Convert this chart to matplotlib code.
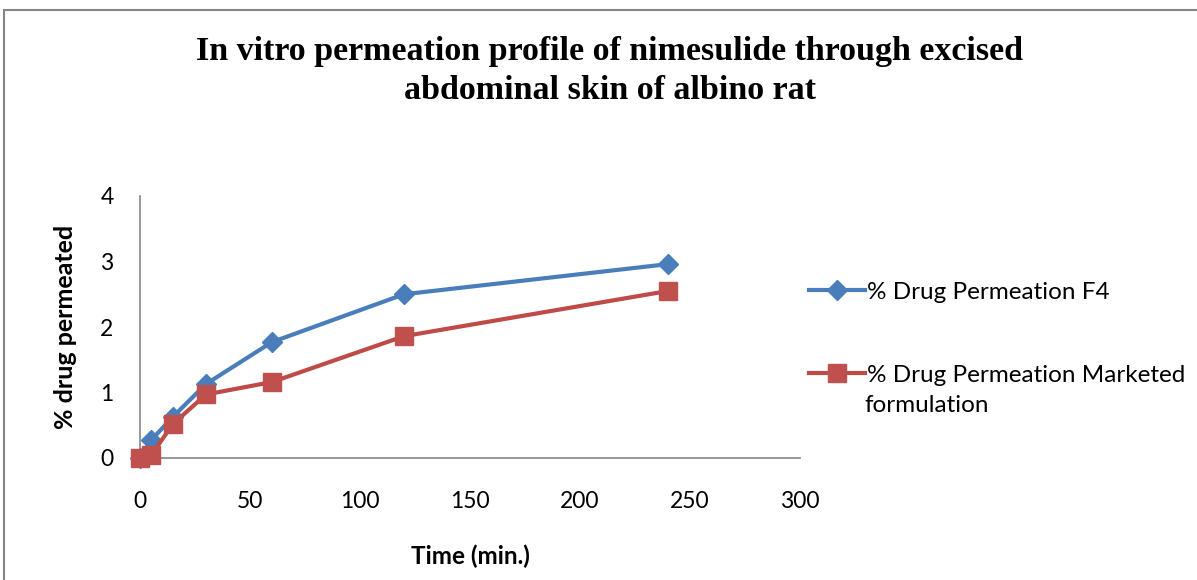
# In vitro permeation profile of nimesulide (F4 vs marketed formulation)

import matplotlib.pyplot as plt
from matplotlib.patches import Rectangle

# Data ........................................................................
time_min = [0, 5, 15, 30, 60, 120, 240]
perm_f4 = [0.0, 0.27, 0.63, 1.13, 1.77, 2.50, 2.96]
perm_marketed = [0.0, 0.04, 0.52, 0.97, 1.16, 1.86, 2.55]

x_ticks = [0, 50, 100, 150, 200, 250, 300]
y_ticks = [0, 1, 2, 3, 4]

title = "In vitro permeation profile of nimesulide through excised\nabdominal skin of albino rat"
label_f4 = "% Drug Permeation F4"
label_mk = "% Drug Permeation Marketed"
label_mk2 = "formulation"

blue = "#4A7EBB"
red = "#BE4B48"
red_face = "#C0504D"
grey = "#868686"
sans = "Lato"

# Figure ......................................................................
fig = plt.figure(figsize=(11.97, 5.80), dpi=100)

# chart-area border (only top and left edges visible in the crop)
fig.patches.append(Rectangle((4 / 1197, -0.1), 1.2, (580 - 10) / 580 + 0.1,
                             transform=fig.transFigure, fill=False,
                             edgecolor=grey, linewidth=1.5))

ax = fig.add_axes([140 / 1197, (580 - 458) / 580, 660 / 1197, 262 / 580])

ax.plot(time_min, perm_f4, color=blue, linewidth=3, marker="D",
        markersize=10, markerfacecolor=blue, markeredgecolor=blue,
        label=label_f4, zorder=3, clip_on=False)
ax.plot(time_min, perm_marketed, color=red, linewidth=3, marker="s",
        markersize=13, markerfacecolor=red_face, markeredgecolor=red_face,
        label=label_mk, zorder=4, clip_on=False)

ax.set_xlim(0, 300)
ax.set_ylim(0, 4)
ax.set_xticks(x_ticks)
ax.set_yticks(y_ticks)
ax.tick_params(length=0, labelsize=16.5, colors="black")
ax.tick_params(axis="x", pad=24)
ax.tick_params(axis="y", pad=19)
for lab in ax.get_xticklabels() + ax.get_yticklabels():
    lab.set_family(sans)

for side in ["top", "right"]:
    ax.spines[side].set_visible(False)
for side in ["left", "bottom"]:
    ax.spines[side].set_color(grey)
    ax.spines[side].set_linewidth(1.2)

ax.set_xlabel("Time (min.)", family=sans, fontsize=17.5, fontweight="bold",
              labelpad=23)
ax.set_ylabel("% drug permeated", family=sans, fontsize=18,
              fontweight="bold", labelpad=17)

fig.text(610 / 1197, 1 - 71 / 580, title, ha="center", va="center",
         family="Liberation Serif", fontsize=24.5, fontweight="bold",
         linespacing=1.3)

# Legend ......................................................................
leg = ax.legend(loc="upper left", bbox_to_anchor=(799 / 1197, 1 - 272 / 580),
                bbox_transform=fig.transFigure, frameon=False,
                prop={"family": sans, "size": 17.5}, handlelength=2.3,
                handletextpad=0.1, labelspacing=2.55, borderaxespad=0)
fig.text(864 / 1197, 1 - 405 / 580, label_mk2, ha="left", va="center",
         family=sans, fontsize=17.5)

fig.savefig("out.png", dpi=100)
